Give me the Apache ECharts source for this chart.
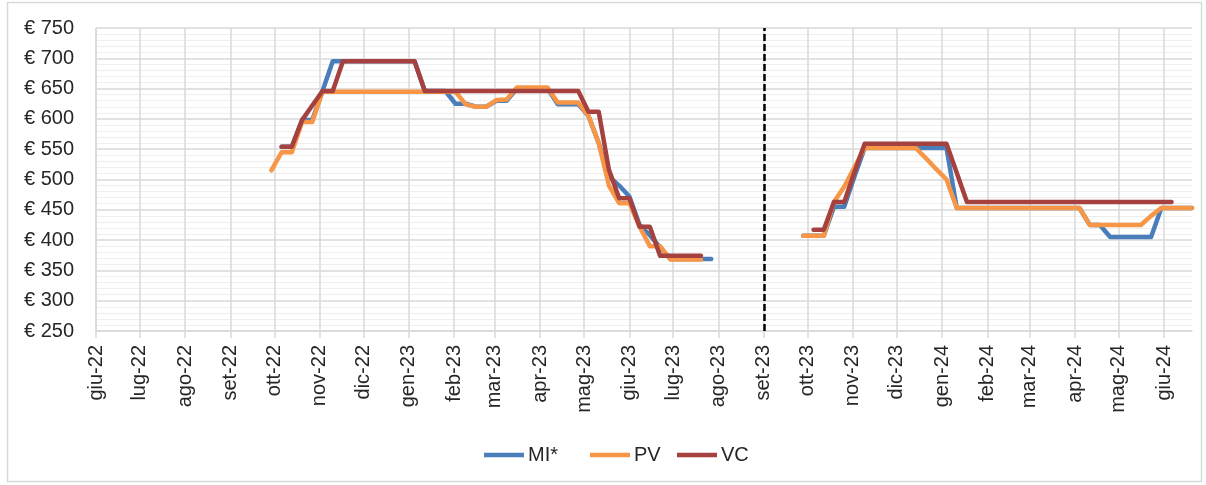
<!DOCTYPE html>
<html>
<head>
<meta charset="utf-8">
<script src="https://cdn.jsdelivr.net/npm/echarts@6/dist/echarts.min.js"></script>
<style>
html,body{margin:0;padding:0;background:#fff;}
#chart{width:1206px;height:485px;}
</style>
</head>
<body>
<div id="chart"></div>
<script>
// ---- data ----
const monthNames = ['gen','feb','mar','apr','mag','giu','lug','ago','set','ott','nov','dic'];
const seriesNames = ['MI*', 'PV', 'VC'];

const dates1 = ['2022-09-29','2022-10-06','2022-10-13','2022-10-20','2022-10-27','2022-11-03','2022-11-10','2022-11-17','2022-11-24','2022-12-01','2022-12-08','2022-12-15','2022-12-22','2022-12-29','2023-01-05','2023-01-12','2023-01-19','2023-01-26','2023-02-02','2023-02-09','2023-02-16','2023-02-23','2023-03-02','2023-03-09','2023-03-16','2023-03-23','2023-03-30','2023-04-06','2023-04-13','2023-04-20','2023-04-27','2023-05-04','2023-05-11','2023-05-18','2023-05-25','2023-06-01','2023-06-08','2023-06-15','2023-06-22','2023-06-29','2023-07-06','2023-07-13','2023-07-20','2023-07-27'];
const MI1 = [null,554,554,598,598,646,695,695,695,695,695,695,695,695,695,646,646,646,625,625,620,620,630,630,650,650,650,650,624,624,624,605,560,505,490,472,425,408,388,369,369,369,369,369];
const PV1 = [515,545,545,595,595,645,645,645,645,645,645,645,645,645,645,645,645,645,645,624,620,620,631,632,652,652,652,652,627,627,627,605,560,490,461,461,422,390,390,368,368,368,368,null];
const VC1 = [null,554,554,598,622,646,646,695,695,695,695,695,695,695,695,646,646,646,646,646,646,646,646,646,646,646,646,646,646,646,646,612,612,516,469,469,422,422,374,374,374,374,374,null];

const dates2 = ['2023-09-28','2023-10-05','2023-10-12','2023-10-19','2023-10-26','2023-11-02','2023-11-09','2023-11-16','2023-11-23','2023-11-30','2023-12-07','2023-12-14','2023-12-21','2023-12-28','2024-01-04','2024-01-11','2024-01-18','2024-01-25','2024-02-01','2024-02-08','2024-02-15','2024-02-22','2024-02-29','2024-03-07','2024-03-14','2024-03-21','2024-03-28','2024-04-04','2024-04-11','2024-04-18','2024-04-25','2024-05-02','2024-05-09','2024-05-16','2024-05-23','2024-05-30','2024-06-06','2024-06-13','2024-06-20'];
const MI2 = [407,407,407,455,455,505,552,552,552,552,552,552,552,552,552,453,453,453,453,453,453,453,453,453,453,453,453,453,425,425,405,405,405,405,405,453,453,453,453];
const PV2 = [407,407,407,463,488,520,552,552,552,552,552,552,535,517,500,453,453,453,453,453,453,453,453,453,453,453,453,453,425,425,425,425,425,425,440,453,453,453,453];
const VC2 = [null,417,417,463,463,512,559,559,559,559,559,559,559,559,559,511,463,463,463,463,463,463,463,463,463,463,463,463,463,463,463,463,463,463,463,463,463,null,null];

const yTicks = [250, 750, 50];      // min, max, step
const xRange = ['2022-06-01', '2024-06-20'];
const dividerDate = '2023-09-01';
const gapDate = '2023-09-01';

// ---- build ----
function pairs(d, v) { return d.map((x, i) => [x, v[i]]); }
function joinPeriods(v1, v2) { return pairs(dates1, v1).concat([[gapDate, null]], pairs(dates2, v2)); }

const colors = ['#4A7EBB', '#F79646', '#A5413E'];
const FONT = 'Liberation Sans';
const TXT = '#262626';
const legendLefts = [484, 590, 677];

const chart = echarts.init(document.getElementById('chart'), null, {renderer: 'canvas'});

const baseSeries = (name, data, color) => ({
  name: name, type: 'line', data: data, showSymbol: false, symbol: 'none',
  connectNulls: false, animation: false,
  lineStyle: {color: color, width: 4.5, cap: 'round', join: 'round'},
  itemStyle: {color: color}
});

const s1 = baseSeries(seriesNames[0], joinPeriods(MI1, MI2), colors[0]);
const s2 = baseSeries(seriesNames[1], joinPeriods(PV1, PV2), colors[1]);
const s3 = baseSeries(seriesNames[2], joinPeriods(VC1, VC2), colors[2]);
s3.markLine = {
  silent: true, symbol: ['none', 'none'], animation: false,
  label: {show: false},
  lineStyle: {color: '#000', type: [7, 3], width: 2.5},
  data: [{xAxis: dividerDate}]
};

chart.setOption({
  animation: false,
  backgroundColor: '#fff',
  textStyle: {fontFamily: FONT},
  graphic: [{
    type: 'rect', silent: true, z: -10,
    shape: {x: 7.5, y: 2.5, width: 1194, height: 479},
    style: {fill: 'none', stroke: '#D9D9D9', lineWidth: 1.5}
  }],
  grid: {left: 96, right: 14, top: 28, bottom: 154, containLabel: false},
  legend: seriesNames.map((n, i) => ({
    data: [n], top: 445, left: legendLefts[i], padding: 0,
    itemWidth: 40, itemHeight: 4.5, itemGap: 0, icon: 'rect',
    textStyle: {fontFamily: FONT, fontSize: 20, color: TXT, padding: [0, 0, 0, -1]}
  })),
  xAxis: {
    type: 'time',
    min: xRange[0], max: xRange[1],
    minInterval: 30 * 86400000, maxInterval: 30 * 86400000,
    axisLine: {show: true, lineStyle: {color: '#D9D9D9', width: 1.5}},
    axisTick: {show: true, length: 7, lineStyle: {color: '#D9D9D9', width: 1.5}},
    splitLine: {show: true, showMaxLine: false, lineStyle: {color: '#D9D9D9', width: 1.5}},
    axisLabel: {
      rotate: 90, margin: 14, fontFamily: FONT, fontSize: 20, color: TXT,
      showMaxLabel: false, hideOverlap: false,
      formatter: function (val) {
        const d = new Date(val);
        if (d.getDate() !== 1) return '';
        return monthNames[d.getMonth()] + '-' + String(d.getFullYear()).slice(2);
      }
    }
  },
  yAxis: {
    type: 'value', min: yTicks[0], max: yTicks[1], interval: yTicks[2],
    axisLine: {show: false}, axisTick: {show: false},
    axisLabel: {margin: 22, fontFamily: FONT, fontSize: 20, color: TXT,
      formatter: v => '€ ' + v},
    splitLine: {show: true, lineStyle: {color: '#D9D9D9', width: 1.5}},
    minorTick: {show: false, splitNumber: 5},
    minorSplitLine: {show: true, lineStyle: {color: '#EEEEEE', width: 1}}
  },
  series: [s1, s2, s3]
});
</script>
</body>
</html>
